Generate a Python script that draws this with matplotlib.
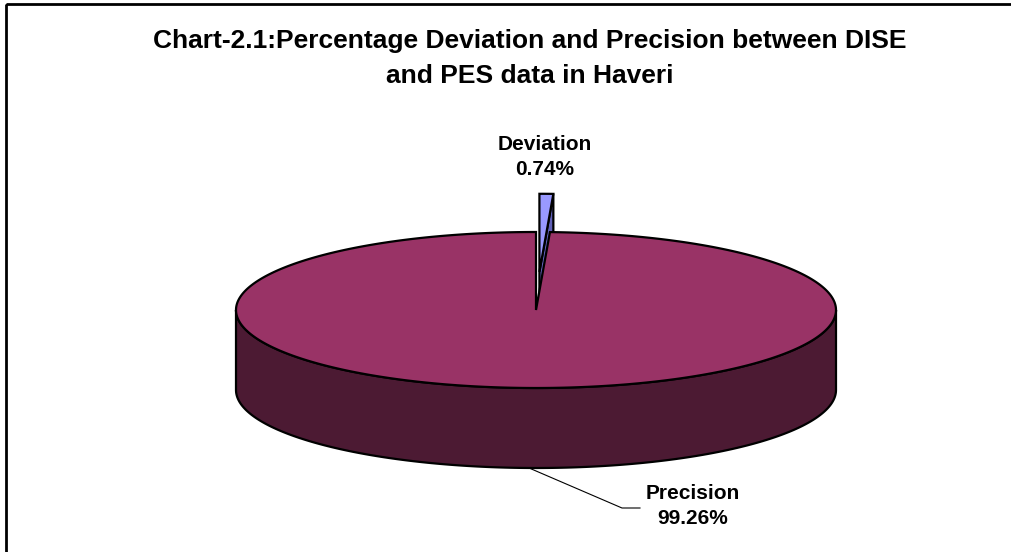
import numpy as np
import matplotlib.pyplot as plt
from matplotlib.patches import Polygon, Rectangle

labels = ['Deviation', 'Precision']
values = [0.74, 99.26]
top_colors = ['#9999ff', '#993366']
side_colors = ['#6060b8', '#4c1a33']
title_lines = ['Chart-2.1:Percentage Deviation and Precision between DISE',
               'and PES data in Haveri']

plt.rcParams['font.family'] = ['Liberation Sans', 'DejaVu Sans']

W, H = 1011, 552
fig = plt.figure(figsize=(W / 100, H / 100), dpi=100)
ax = fig.add_axes([0, 0, 1, 1])
ax.set_xlim(0, W)
ax.set_ylim(H, 0)
ax.axis('off')

# pie geometry in pixel units (y grows downward)
cx, cy = 536, 310
a, b = 300, 78
depth = 80
explode = 0.49


def pt(t, dx=0.0, dy=0.0, r=1.0):
    # t in degrees, clockwise from 12 o'clock
    tr = np.radians(t)
    return np.column_stack([cx + dx + r * a * np.sin(tr), cy + dy - r * b * np.cos(tr)])


fr = np.array(values) / sum(values)
bounds = np.concatenate([[0], np.cumsum(fr) * 360])
lw = 1.6

# exploded deviation slice, sitting behind the main body
t0, t1 = bounds[0], bounds[1]
mid = (t0 + t1) / 2
ox = explode * a * np.sin(np.radians(mid))
oy = -explode * b * np.cos(np.radians(mid))
c_top = np.array([[cx + ox, cy + oy]])
p_end = pt(t1, ox, oy)
face = np.vstack([c_top, p_end, p_end + [0, depth], c_top + [0, depth]])
ax.add_patch(Polygon(face, closed=True, fc=side_colors[0], ec='black', lw=lw, zorder=1))
arc = pt(np.linspace(t0, t1, 10), ox, oy)
ax.add_patch(Polygon(np.vstack([c_top, arc]), closed=True, fc=top_colors[0], ec='black',
                     lw=lw, zorder=2))

# main body: front side wall then top face
t0, t1 = bounds[1], bounds[2]
ts = np.linspace(max(90, t0), min(270, t1), 200)
upper = pt(ts)
lower = pt(ts[::-1], dy=depth)
ax.add_patch(Polygon(np.vstack([upper, lower]), closed=True, fc=side_colors[1], ec='black',
                     lw=lw, zorder=3))
arc = pt(np.linspace(t0, t1, 400))
ax.add_patch(Polygon(np.vstack([[cx, cy], arc]), closed=True, fc=top_colors[1], ec='black',
                     lw=lw, zorder=4))

# labels
bold = dict(fontsize=15, fontweight='bold', ha='center', va='center', zorder=6)
ax.text(545, 157, f'{labels[0]}\n{values[0]:.2f}%', linespacing=1.45, **bold)

anchor = pt((t0 + t1) / 2, dy=depth)[0]
ax.plot([anchor[0], 622, 640], [anchor[1], 508, 508], color='black', lw=0.8, zorder=5)
ax.text(693, 506, f'{labels[1]}\n{values[1]:.2f}%', linespacing=1.45, **bold)

# title, two lines
for line, base in zip(title_lines, [48, 83]):
    ax.text(530, base, line, fontsize=19, fontweight='bold', ha='center', va='baseline')

# chart area border
ax.add_patch(Rectangle((6, 4), W + 20, H + 20, fill=False, ec='black', lw=2, zorder=7))

fig.savefig('out.png', dpi=100)
